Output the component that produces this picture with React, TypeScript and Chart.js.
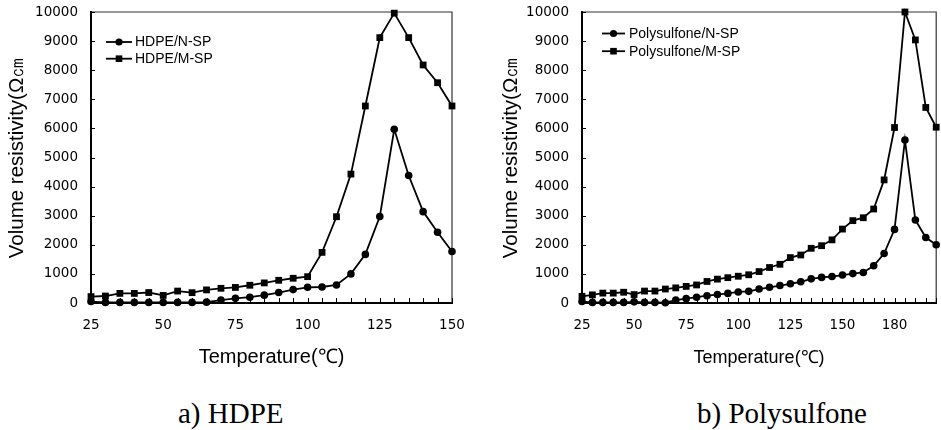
import React, { useEffect, useRef } from "react";
import { Chart, registerables } from "chart.js";

Chart.register(...registerables);

// ---------------- data ----------------
const hdpeTemps = [25, 30, 35, 40, 45, 50, 55, 60, 65, 70, 75, 80, 85, 90, 95, 100, 105, 110, 115, 120, 125, 130, 135, 140, 145, 150];
const hdpeNSP = [50, 20, 20, 20, 20, 20, 20, 20, 30, 100, 160, 200, 270, 360, 460, 540, 550, 620, 1000, 1670, 2970, 5970, 4380, 3140, 2430, 1770];
const hdpeMSP = [220, 240, 330, 330, 360, 260, 410, 355, 450, 505, 535, 610, 690, 780, 850, 905, 1740, 2965, 4430, 6770, 9120, 9960, 9120, 8180, 7570, 6770];

const psTemps = [25, 30, 35, 40, 45, 50, 55, 60, 65, 70, 75, 80, 85, 90, 95, 100, 105, 110, 115, 120, 125, 130, 135, 140, 145, 150, 155, 160, 165, 170, 175, 180, 185, 190, 195];
const psNSP = [50, 20, 20, 20, 20, 40, 20, 20, 10, 100, 150, 200, 250, 290, 330, 380, 400, 480, 540, 600, 660, 730, 830, 880, 910, 960, 1010, 1050, 1280, 1700, 2530, 5600, 2850, 2250, 2000];
const psMSP = [230, 280, 340, 340, 370, 290, 410, 410, 480, 520, 570, 620, 740, 820, 870, 920, 970, 1080, 1220, 1330, 1560, 1650, 1880, 1970, 2170, 2540, 2830, 2930, 3230, 4230, 6030, 10000, 9040, 6720, 6040];

const yTickValues = [0, 1000, 2000, 3000, 4000, 5000, 6000, 7000, 8000, 9000, 10000];
const hdpeXTickValues = [25, 50, 75, 100, 125, 150];
const hdpeXTickLabels = ["25", "50", "75", "100", "125", "150"];
const psXTickValues = [25, 50, 75, 100, 125, 150, 175];
const psXTickLabels = ["25", "50", "75", "100", "125", "150", "180"];

const hdpeSeriesNames = ["HDPE/N-SP", "HDPE/M-SP"];
const psSeriesNames = ["Polysulfone/N-SP", "Polysulfone/M-SP"];
const yTitle = "Volume resistivity(Ω㎝";
const xTitle = "Temperature(℃)";
const captions = ["a) HDPE", "b) Polysulfone"];

// ---------------- plugins ----------------
const framePlugin = {
  id: "frameTicks",
  beforeDatasetsDraw(chart: any, _args: any, opts: any) {
    const { ctx, chartArea, scales } = chart;
    const { left, right, top, bottom } = chartArea;
    ctx.save();
    ctx.strokeStyle = "#333";
    ctx.lineWidth = 1.2;
    ctx.beginPath();
    ctx.moveTo(left, top);
    ctx.lineTo(right, top);
    ctx.lineTo(right, bottom);
    ctx.stroke();
    ctx.strokeStyle = "#000";
    ctx.lineWidth = 1;
    ctx.beginPath();
    for (const v of opts.xMinor || []) {
      const px = Math.round(scales.x.getPixelForValue(v)) + 0.5;
      ctx.moveTo(px, bottom);
      ctx.lineTo(px, bottom - 5);
    }
    for (const v of opts.yMinor || []) {
      const py = Math.round(scales.y.getPixelForValue(v)) + 0.5;
      ctx.moveTo(left, py);
      ctx.lineTo(left + 4, py);
    }
    ctx.stroke();
    ctx.restore();
  },
};

const legendPlugin = {
  id: "boxLegend",
  afterDraw(chart: any, _args: any, opts: any) {
    const { ctx } = chart;
    ctx.save();
    chart.data.datasets.forEach((ds: any, i: number) => {
      const y = opts.y + i * opts.gap;
      const x0 = opts.x;
      const x1 = opts.x + opts.len;
      ctx.strokeStyle = "#000";
      ctx.fillStyle = "#000";
      ctx.lineWidth = 1.8;
      ctx.beginPath();
      ctx.moveTo(x0, y);
      ctx.lineTo(x1, y);
      ctx.stroke();
      const mx = (x0 + x1) / 2;
      if (ds.pointStyle === "rect") {
        ctx.fillRect(mx - 3.3, y - 3.3, 6.6, 6.6);
      } else {
        ctx.beginPath();
        ctx.arc(mx, y, 3.6, 0, Math.PI * 2);
        ctx.fill();
      }
      ctx.font = '14px "Liberation Sans", Arial, sans-serif';
      ctx.textBaseline = "middle";
      ctx.textAlign = "left";
      ctx.fillText(ds.label, x1 + opts.textGap, y + 0.5);
    });
    ctx.restore();
  },
};

function makeConfig(p: any) {
  const mk = (vals: number[]) => p.temps.map((t: number, i: number) => ({ x: t, y: vals[i] }));
  const labelFor = (v: number) => {
    const k = p.xTicks.indexOf(Math.round(v));
    return k >= 0 ? p.xLabels[k] : "";
  };
  const common = {
    borderColor: "#000",
    backgroundColor: "#000",
    pointBackgroundColor: "#000",
    pointBorderColor: "#000",
    borderWidth: 1.8,
    pointBorderWidth: 0,
    tension: 0,
    clip: false,
  };
  return {
    type: "line",
    data: {
      datasets: [
        { ...common, label: p.names[0], data: mk(p.nsp), pointStyle: "circle", pointRadius: 3.8 },
        { ...common, label: p.names[1], data: mk(p.msp), pointStyle: "rect", pointRadius: 4.8 },
      ],
    },
    options: {
      responsive: false,
      animation: false,
      events: [],
      layout: { padding: { left: 0, right: p.padRight, top: 12, bottom: 0 } },
      plugins: {
        legend: { display: false },
        tooltip: { enabled: false },
        frameTicks: { xMinor: p.temps, yMinor: yTickValues },
        boxLegend: p.legend,
      },
      scales: {
        x: {
          type: "linear",
          min: p.xMin,
          max: p.xMax,
          afterBuildTicks: (s: any) => {
            s.ticks = p.xTicks.map((v: number) => ({ value: v }));
          },
          afterFit: (s: any) => {
            s.height = 66;
            s.paddingLeft = 0;
            s.paddingRight = 0;
          },
          grid: { display: false, drawTicks: false },
          border: { display: true, color: "#000", width: 2 },
          ticks: {
            padding: 14,
            color: "#000",
            maxRotation: 0,
            minRotation: 0,
            autoSkip: false,
            sampleSize: 100,
            font: { family: '"DejaVu Sans", sans-serif', size: 13.5 },
            callback: (v: any) => labelFor(Number(v)),
          },
          title: {
            display: true,
            text: xTitle,
            color: "#000",
            font: { family: '"Liberation Sans", Arial, sans-serif', size: p.xTitleSize },
            padding: { top: 0, bottom: 0 },
          },
        },
        y: {
          min: 0,
          max: 10000,
          afterBuildTicks: (s: any) => {
            s.ticks = yTickValues.map((v) => ({ value: v }));
          },
          afterFit: (s: any) => {
            s.width = p.yWidth;
            s.paddingTop = 0;
            s.paddingBottom = 0;
          },
          grid: { display: false, drawTicks: false },
          border: { display: true, color: "#000", width: 2 },
          ticks: {
            padding: 13,
            color: "#000",
            autoSkip: false,
            font: { family: '"DejaVu Sans", sans-serif', size: 13.5 },
            callback: (v: any) => String(v),
          },
          title: {
            display: true,
            text: yTitle,
            color: "#000",
            font: { family: '"Liberation Sans", Arial, sans-serif', size: 20.5 },
            padding: { top: 5, bottom: 0 },
          },
        },
      },
    },
    plugins: [framePlugin, legendPlugin],
  };
}

function ChartCanvas(props: { cfg: any; width: number; height: number }) {
  const ref = useRef<HTMLCanvasElement | null>(null);
  useEffect(() => {
    if (!ref.current) return;
    const chart = new Chart(ref.current, props.cfg);
    return () => chart.destroy();
  }, []);
  return (
    <canvas
      ref={ref}
      width={props.width}
      height={props.height}
      style={{ width: props.width, height: props.height, display: "block" }}
    />
  );
}

export default function App() {
  const leftCfg = makeConfig({
    temps: hdpeTemps,
    nsp: hdpeNSP,
    msp: hdpeMSP,
    names: hdpeSeriesNames,
    xMin: 25,
    xMax: 150,
    xTicks: hdpeXTickValues,
    xLabels: hdpeXTickLabels,
    padRight: 18,
    yWidth: 91,
    xTitleSize: 20,
    legend: { x: 106, y: 42, gap: 16.7, len: 26, textGap: 3 },
  });
  const rightCfg = makeConfig({
    temps: psTemps,
    nsp: psNSP,
    msp: psMSP,
    names: psSeriesNames,
    xMin: 25,
    xMax: 195,
    xTicks: psXTickValues,
    xLabels: psXTickLabels,
    padRight: 2,
    yWidth: 88,
    xTitleSize: 18,
    legend: { x: 108, y: 33.5, gap: 17.7, len: 23, textGap: 4 },
  });
  const capStyle: any = {
    position: "absolute",
    top: 399,
    fontFamily: '"Liberation Serif", "DejaVu Serif", serif',
    fontSize: 29,
    lineHeight: "29px",
    color: "#000",
    whiteSpace: "pre",
  };
  return (
    <div style={{ position: "absolute", left: 0, top: 0, width: 941, height: 430, background: "#fff", overflow: "hidden" }}>
      <div style={{ position: "absolute", left: 0, top: 0 }}>
        <ChartCanvas cfg={leftCfg} width={470} height={369} />
      </div>
      <div style={{ position: "absolute", left: 494, top: 0 }}>
        <ChartCanvas cfg={rightCfg} width={447} height={369} />
      </div>
      <div style={{ ...capStyle, left: 178 }}>{captions[0]}</div>
      <div style={{ ...capStyle, left: 697 }}>{captions[1]}</div>
    </div>
  );
}
